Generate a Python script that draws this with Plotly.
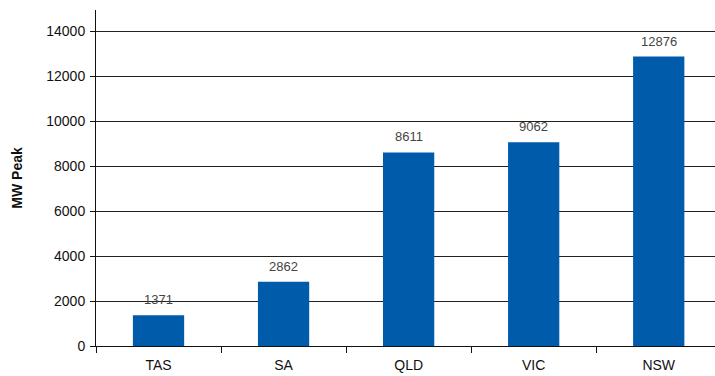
import plotly.graph_objects as go

states = ["TAS", "SA", "QLD", "VIC", "NSW"]
peak_mw = [1371, 2862, 8611, 9062, 12876]
y_ticks = [0, 2000, 4000, 6000, 8000, 10000, 12000, 14000]
y_tick_labels = ["0", "2000", "4000", "6000", "8000", "10000", "12000", "14000"]

font_family = "Liberation Sans Narrow, Arial Narrow, Liberation Sans, Arial, sans-serif"
bar_color = "#005BAA"

fig = go.Figure(
    go.Bar(
        x=states,
        y=peak_mw,
        width=0.41,
        marker=dict(color=bar_color, line=dict(width=0)),
        hoverinfo="x+y",
    )
)

# value labels above each bar
for s, v in zip(states, peak_mw):
    fig.add_annotation(
        x=s, y=v, text=str(v), showarrow=False,
        yanchor="bottom", yshift=6,
        font=dict(family=font_family, size=13, color="#444444"),
    )

fig.update_layout(
    width=715, height=376,
    margin=dict(l=96, r=0, t=10, b=30),
    paper_bgcolor="white", plot_bgcolor="white",
    showlegend=False,
    font=dict(family=font_family, size=14, color="#111111"),
    xaxis=dict(
        range=[-0.5, 4.45],
        showline=True, linecolor="#111111", linewidth=1,
        ticks="outside", tickson="boundaries", ticklen=6, tickcolor="#111111",
        showgrid=False, zeroline=False,
        ticklabelstandoff=6,
        tickfont=dict(family=font_family, size=14, color="#111111"),
    ),
    yaxis=dict(
        range=[0, 14950],
        tickvals=y_ticks,
        ticktext=y_tick_labels,
        showline=True, linecolor="#111111", linewidth=1,
        ticks="outside", ticklen=5, tickcolor="#111111",
        showgrid=True, gridcolor="#222222", gridwidth=1,
        zeroline=False,
        ticklabelstandoff=2,
        tickfont=dict(family=font_family, size=14, color="#111111"),
        title=dict(text="<b>MW Peak</b>", font=dict(family=font_family, size=14, color="#111111"), standoff=20),
    ),
)

fig.write_html("out.html")
